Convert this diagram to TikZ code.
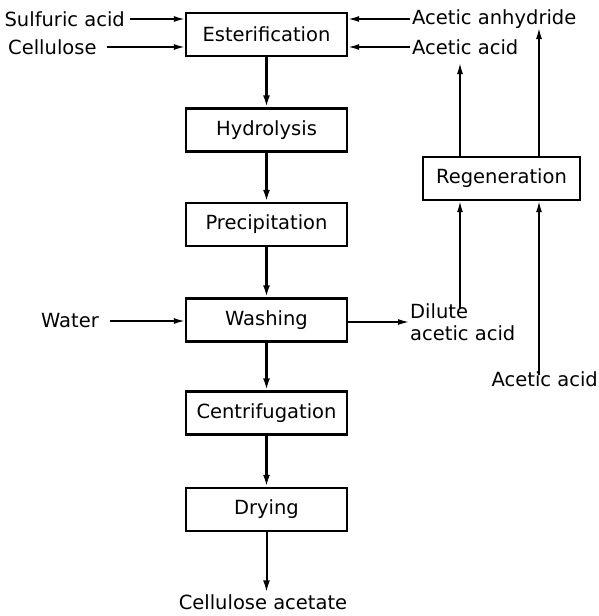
\documentclass[tikz,border=0pt]{standalone}
\usepackage{fontspec}
\setmainfont{DejaVu Sans}
\usetikzlibrary{arrows.meta,positioning,calc}

\begin{document}
\begin{tikzpicture}[x=1pt,y=-1pt,
  stepbox/.style={draw,line width=2.4pt,minimum width=161pt,minimum height=43pt,
    inner sep=0pt,font=\fontsize{19.5}{22}\selectfont},
  lbl/.style={inner sep=2pt,font=\fontsize{19.5}{22}\selectfont,align=left},
  arr/.style={-{Latex[length=11pt,width=6pt]},line width=1.5pt},
  flow/.style={-{Latex[length=12pt,width=7pt]},line width=2.4pt}
]
  \useasboundingbox (0,0) rectangle (599,616);

  % main process column
  \node[stepbox] (ester) at (266.5,34.5) {Esterification};
  \node[stepbox] (hydro) at (266.5,130) {Hydrolysis};
  \node[stepbox] (precip) at (266.5,224.5) {Precipitation};
  \node[stepbox] (wash) at (266.5,320) {Washing};
  \node[stepbox] (centri) at (266.5,413) {Centrifugation};
  \node[stepbox] (dry) at (266.5,509.5) {Drying};
  \node[lbl] (prod) at (263,602) {Cellulose acetate};

  \foreach \a/\b in {ester/hydro,hydro/precip,precip/wash,wash/centri,centri/dry}
    \draw[flow] (\a) -- (\b);
  \draw[flow,line width=2pt] (dry) -- (dry |- prod.north);

  % feeds into esterification
  \node[lbl,anchor=east] (sulf) at (127,19) {Sulfuric acid};
  \node[lbl,anchor=west] (cell) at (6,47) {Cellulose};
  \draw[arr] ([xshift=3pt]sulf.east) -- (sulf.east -| ester.west);
  \draw[arr] ([xshift=8pt]cell.east) -- (cell.east -| ester.west);

  \node[lbl,anchor=west] (anh) at (410,19) {Acetic anhydride};
  \node[lbl,anchor=west] (acid) at (410,47) {Acetic acid};
  \draw[arr] (anh.west) -- (anh.west -| ester.east);
  \draw[arr] (acid.west) -- (acid.west -| ester.east);

  % washing
  \node[lbl,anchor=east] (water) at (101,321) {Water};
  \draw[arr] ([xshift=9pt]water.east) -- (water.east -| wash.west);
  \node[lbl,anchor=west,inner sep=1pt] (dil) at (409,322) {Dilute\\acetic acid};
  \draw[arr] (dil.west -| wash.east) -- (dil.west);

  % regeneration loop
  \node[stepbox,minimum width=157pt] (regen) at (501.5,178.5) {Regeneration};
  \coordinate (out1) at (460,63);
  \coordinate (out2) at (539,28);
  \node[lbl,anchor=east,inner sep=1pt] (acid2) at (599,379) {Acetic acid};
  \draw[arr] (regen.north -| out1) -- (out1);
  \draw[arr] (regen.north -| out2) -- (out2);
  \draw[arr] ([yshift=-6pt]dil.north -| out1) -- (regen.south -| out1);
  \draw[arr] ([yshift=-5pt]acid2.north -| out2) -- (regen.south -| out2);
\end{tikzpicture}
\end{document}
